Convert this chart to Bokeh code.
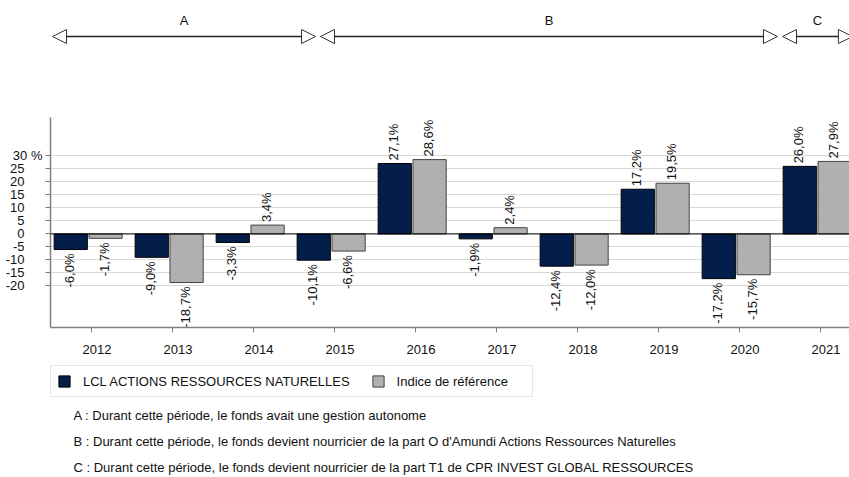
import math
from bokeh.plotting import figure
from bokeh.layouts import column
from bokeh.models import (Range1d, FixedTicker, CustomJSTickFormatter, ColumnDataSource,
                          Legend, LegendItem, Label, Arrow, NormalHead, Span)
from bokeh.transform import dodge
from bokeh.core.properties import value
from bokeh.embed import file_html
from bokeh.resources import INLINE

# ---------------- data ----------------
years = ["2012", "2013", "2014", "2015", "2016", "2017", "2018", "2019", "2020", "2021"]
fund = [-6.0, -9.0, -3.3, -10.1, 27.1, -1.9, -12.4, 17.2, -17.2, 26.0]
bench = [-1.7, -18.7, 3.4, -6.6, 28.6, 2.4, -12.0, 19.5, -15.7, 27.9]
series_names = ["LCL ACTIONS RESSOURCES NATURELLES", "Indice de référence"]
y_ticks = [-20, -15, -10, -5, 0, 5, 10, 15, 20, 25, 30]
y_unit = "%"
periods = ["A", "B", "C"]
period_start = [-0.475, 2.833, 8.537]   # in category units (0 = 2012)
period_end = [2.772, 8.475, 9.40]
footnotes = [
    "A : Durant cette période, le fonds avait une gestion autonome",
    "B : Durant cette période, le fonds devient nourricier de la part O d'Amundi Actions Ressources Naturelles",
    "C : Durant cette période, le fonds devient nourricier de la part T1 de CPR INVEST GLOBAL RESSOURCES",
]

# ---------------- style ----------------
FONT = "Liberation Sans"
NAVY = "#041E4B"
GREY = "#B0B0B0"
AXIS = "#7f7f7f"
TXT = "#111111"
W = 849
LEFT = 50

xpos = list(range(len(years)))
xr = Range1d(-0.5, 9.364)


def fmt(v):
    return ("%.1f%%" % v).replace(".", ",")


# ---------------- top: periods ----------------
TH = 117
t = figure(width=W, height=TH, x_range=xr, y_range=Range1d(0, TH),
           min_border_left=LEFT, min_border_right=0, min_border_top=0, min_border_bottom=0,
           x_axis_location=None, y_axis_location=None, outline_line_color=None,
           toolbar_location=None, output_backend="svg")
t.grid.visible = False
psrc = ColumnDataSource(dict(x0=period_start, x1=period_end,
                             xm=[(a + b) / 2 for a, b in zip(period_start, period_end)],
                             y=[TH - 36] * len(periods), ty=[TH - 20] * len(periods),
                             name=periods))
t.add_layout(Arrow(source=psrc, x_start="x0", x_end="x1", y_start="y", y_end="y",
                   line_color="#222222", line_width=1.3,
                   start=NormalHead(size=14, fill_color="white", line_color="#333333", line_width=1),
                   end=NormalHead(size=14, fill_color="white", line_color="#333333", line_width=1)))
t.text(x="xm", y="ty", text="name", source=psrc, text_align="center", text_baseline="middle",
       text_font=value(FONT), text_font_size="13px", text_color=TXT)

# ---------------- main chart ----------------
MH = 245
p = figure(width=W, height=MH, x_range=xr, y_range=Range1d(-36, 44.8),
           min_border_left=LEFT, min_border_right=0, min_border_top=0, min_border_bottom=35,
           outline_line_color=None, toolbar_location=None, output_backend="svg")
p.xgrid.visible = False
p.ygrid.ticker = FixedTicker(ticks=y_ticks)
p.ygrid.grid_line_color = "#d9d9d9"
p.ygrid.grid_line_width = 1

src = ColumnDataSource(dict(x=xpos, fund=fund, bench=bench))
OFF_F, OFF_B, BW = -0.25, 0.18, 0.41
p.vbar(x=dodge("x", OFF_F), top="fund", bottom=0, width=BW, source=src,
       fill_color=NAVY, line_color="#000000", line_width=1)
p.vbar(x=dodge("x", OFF_B), top="bench", bottom=0, width=BW, source=src,
       fill_color=GREY, line_color="#444444", line_width=1)
p.add_layout(Span(location=0, dimension="width", line_color="#000000", line_width=1))

for vals, off in ((fund, OFF_F), (bench, OFF_B)):
    pos = ColumnDataSource(dict(x=[i for i, v in zip(xpos, vals) if v >= 0],
                                y=[v for v in vals if v >= 0],
                                t=[fmt(v) for v in vals if v >= 0]))
    neg = ColumnDataSource(dict(x=[i for i, v in zip(xpos, vals) if v < 0],
                                y=[v for v in vals if v < 0],
                                t=[fmt(v) for v in vals if v < 0]))
    p.text(x=dodge("x", off), y="y", text="t", source=pos, angle=math.pi / 2,
           text_align="left", text_baseline="middle", y_offset=-3, x_offset=-1,
           text_font=value(FONT), text_font_size="13px", text_color=TXT)
    p.text(x=dodge("x", off), y="y", text="t", source=neg, angle=math.pi / 2,
           text_align="right", text_baseline="middle", y_offset=4, x_offset=-1,
           text_font=value(FONT), text_font_size="13px", text_color=TXT)

# x axis: tick marks at categories (minor), labels slightly to the right (major)
p.xaxis.ticker = FixedTicker(ticks=[i + 0.074 for i in xpos], minor_ticks=xpos)
p.xaxis.formatter = CustomJSTickFormatter(args=dict(years=years),
                                          code="return years[Math.round(tick)]")
p.xaxis.major_tick_line_color = None
p.xaxis.major_tick_out = 5
p.xaxis.major_tick_in = 0
p.xaxis.minor_tick_line_color = AXIS
p.xaxis.minor_tick_out = 5
p.xaxis.minor_tick_in = 0
p.xaxis.minor_tick_line_width = 1
p.xaxis.axis_line_color = AXIS
p.xaxis.axis_line_width = 1.5
p.xaxis.major_label_standoff = 12
p.xaxis.major_label_text_font = FONT
p.xaxis.major_label_text_font_size = "13px"
p.xaxis.major_label_text_color = TXT

# y axis: numbers right-aligned; the top one carries the unit "30 %"
p.yaxis.ticker = FixedTicker(ticks=y_ticks)
p.yaxis.formatter = CustomJSTickFormatter(
    args=dict(top=y_ticks[-1], unit=y_unit, pad="\u00a0" * 5),
    code="return tick == top ? tick + ' ' + unit : tick + pad")
p.yaxis.minor_tick_line_color = None
p.yaxis.major_tick_out = 5
p.yaxis.major_tick_in = 0
p.yaxis.major_tick_line_color = AXIS
p.yaxis.axis_line_color = AXIS
p.yaxis.axis_line_width = 1.5
p.yaxis.major_label_standoff = 3
p.yaxis.major_label_text_font = FONT
p.yaxis.major_label_text_font_size = "13px"
p.yaxis.major_label_text_color = TXT

# ---------------- bottom: legend & footnotes ----------------
BH = 477 - TH - MH
b = figure(width=W, height=BH, x_range=Range1d(0, W - LEFT), y_range=Range1d(0, BH),
           min_border_left=LEFT, min_border_right=0, min_border_top=0, min_border_bottom=0,
           x_axis_location=None, y_axis_location=None, outline_line_color=None,
           toolbar_location=None, output_backend="svg")
b.grid.visible = False
nan = float("nan")
r1 = b.vbar(x="x", top="top", width=1, source=ColumnDataSource(dict(x=[nan], top=[nan])),
            fill_color=NAVY, line_color="#000000")
r2 = b.vbar(x="x", top="top", width=1, source=ColumnDataSource(dict(x=[nan], top=[nan])),
            fill_color=GREY, line_color="#444444")
leg = Legend(items=[LegendItem(label=series_names[0], renderers=[r1]),
                    LegendItem(label=series_names[1], renderers=[r2])],
             location=(0, 80), orientation="horizontal", padding=6, spacing=21, margin=0,
             glyph_width=14, glyph_height=14, label_standoff=12, label_height=18,
             label_width=129,
             label_text_font=FONT, label_text_font_size="13px", label_text_color=TXT,
             border_line_color="#d0d0d0", border_line_width=1, background_fill_color="white")
b.add_layout(leg)
for i, txt in enumerate(footnotes):
    b.add_layout(Label(x=23, y=62 - 26 * i, text=txt, text_baseline="middle",
                       text_font=FONT, text_font_size="13px", text_color=TXT))

layout = column(t, p, b, spacing=0)
open("out.html", "w").write(file_html(layout, INLINE))
